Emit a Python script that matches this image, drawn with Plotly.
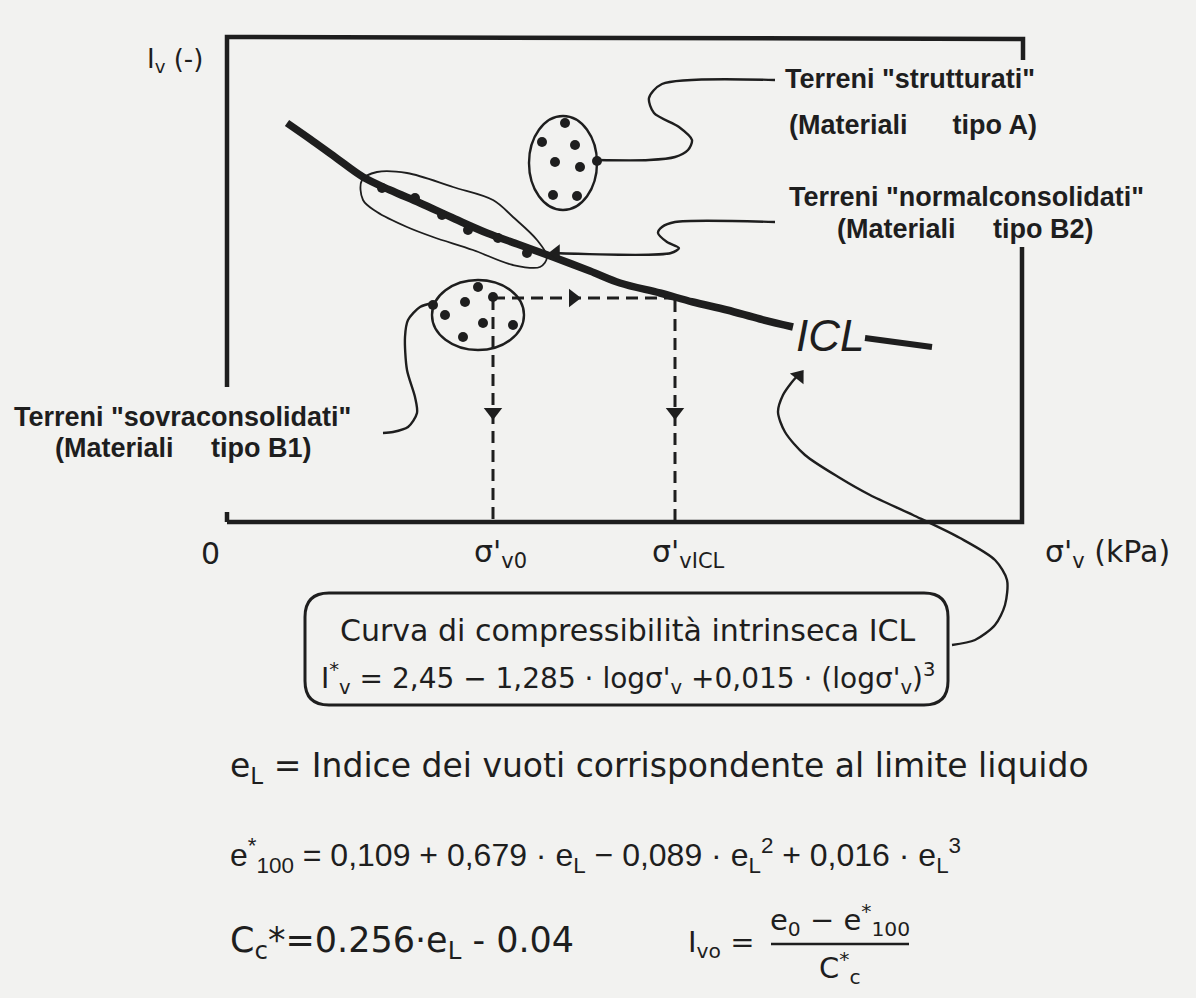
import plotly.graph_objects as go

# ICL curve (drawing units = pixels of the sheet)
icl_x = [287, 310, 335, 363, 390, 420, 455, 487, 520, 553, 590, 620, 660, 693, 727, 760, 793]
icl_y = [123, 139, 157, 177, 190, 203, 219, 233, 245, 257, 271, 283, 293, 302, 310, 319, 327]
icl_tail_x = [865, 932]
icl_tail_y = [338, 347]

# "normalconsolidati" loop and its points on the curve
nc_loop_x = [362, 377, 407, 453, 493, 513, 537, 547, 540, 513, 473, 433, 407, 377, 363, 362]
nc_loop_y = [180, 172, 173, 187, 200, 217, 240, 257, 267, 265, 250, 237, 227, 212, 200, 180]
nc_dots_x = [382, 415, 442, 468, 498, 527]
nc_dots_y = [188, 198, 215, 230, 238, 253]

# "strutturati" cloud (type A)
a_ell = [529, 116, 597, 210]
a_dots_x = [565, 542, 575, 555, 580, 553, 577, 597]
a_dots_y = [123, 142, 145, 162, 167, 195, 196, 161]

# "sovraconsolidati" cloud (type B1)
b1_ell = [432, 280, 524, 350]
b1_dots_x = [478, 465, 493, 445, 483, 513, 463, 433]
b1_dots_y = [287, 302, 297, 315, 323, 325, 337, 305]

# leaders
lead_a_x = [597, 649, 675, 688, 692, 679, 654, 649, 662, 775]
lead_a_y = [160, 160, 157, 150, 140, 127, 113, 98, 84, 80]
lead_b2_x = [553, 671, 679, 667, 658, 662, 675, 775]
lead_b2_y = [253, 253, 248, 242, 233, 227, 222, 222]
lead_b1_x = [433, 420, 408, 405, 407, 415, 417, 408, 393, 383]
lead_b1_y = [303, 307, 320, 337, 370, 397, 413, 427, 432, 433]
lead_icl_x = [952, 975, 995, 1005, 1007, 995, 960, 913, 870, 840, 805, 785, 778, 783, 792, 800]
lead_icl_y = [645, 640, 625, 605, 580, 560, 538, 515, 495, 478, 455, 432, 412, 395, 382, 373]

# construction lines sigma'v0 / sigma'vICL
s_v0 = 493
s_vicl = 675
s_level = 298
axis_base = 522

# frame pieces
frame_x = [[227, 227, 1023, 1023], [1022, 1022, 227], [227, 227]]
frame_y = [[387, 37, 39, 60], [247, 522, 522], [512, 522]]

INK = "#1e1e1e"
PAPER = "#f2f2f0"

fig = go.Figure()

for fx, fy in zip(frame_x, frame_y):
    fig.add_trace(go.Scatter(x=fx, y=fy, mode="lines", line=dict(color=INK, width=4.5)))

fig.add_trace(go.Scatter(x=icl_x, y=icl_y, mode="lines",
                         line=dict(color=INK, width=7.5, shape="spline")))
fig.add_trace(go.Scatter(x=icl_tail_x, y=icl_tail_y, mode="lines",
                         line=dict(color=INK, width=6)))

fig.add_trace(go.Scatter(x=nc_loop_x, y=nc_loop_y, mode="lines",
                         line=dict(color=INK, width=1.8, shape="spline", smoothing=1.0)))

for dx, dy in [(nc_dots_x, nc_dots_y), (a_dots_x, a_dots_y), (b1_dots_x, b1_dots_y)]:
    fig.add_trace(go.Scatter(x=dx, y=dy, mode="markers",
                             marker=dict(color=INK, size=10, line=dict(width=0))))

for lx, ly in [(lead_a_x, lead_a_y), (lead_b2_x, lead_b2_y),
               (lead_b1_x, lead_b1_y), (lead_icl_x, lead_icl_y)]:
    fig.add_trace(go.Scatter(x=lx, y=ly, mode="lines",
                             line=dict(color=INK, width=2.4, shape="spline", smoothing=0.8)))

# dashed construction lines
dash = dict(color=INK, width=3, dash="12px,7px")
fig.add_trace(go.Scatter(x=[s_v0, s_vicl], y=[s_level, s_level], mode="lines", line=dash))
fig.add_trace(go.Scatter(x=[s_v0, s_v0], y=[s_level, axis_base], mode="lines", line=dash))
fig.add_trace(go.Scatter(x=[s_vicl, s_vicl], y=[s_level + 2, axis_base], mode="lines", line=dash))

# arrow heads
fig.add_trace(go.Scatter(x=[573], y=[s_level], mode="markers",
                         marker=dict(symbol="triangle-right", size=16, color=INK)))
fig.add_trace(go.Scatter(x=[s_v0, s_vicl], y=[412, 412], mode="markers",
                         marker=dict(symbol="triangle-down", size=16, color=INK)))
fig.add_trace(go.Scatter(x=[556], y=[253], mode="markers",
                         marker=dict(symbol="triangle-left", size=15, color=INK)))
fig.add_trace(go.Scatter(x=[799], y=[376], mode="markers",
                         marker=dict(symbol="triangle-up", size=15, color=INK, angle=38)))

# Ivo fraction bar
fig.add_trace(go.Scatter(x=[771, 909], y=[944, 944], mode="lines", line=dict(color=INK, width=2.5)))

# clouds
fig.add_shape(type="circle", xref="x", yref="y", x0=a_ell[0], y0=a_ell[1], x1=a_ell[2], y1=a_ell[3],
              line=dict(color=INK, width=2.4))
fig.add_shape(type="circle", xref="x", yref="y", x0=b1_ell[0], y0=b1_ell[1], x1=b1_ell[2], y1=b1_ell[3],
              line=dict(color=INK, width=2.4))

# rounded box for the ICL equation
bx0, by0, bx1, by1, r = 305, 593, 948, 705, 24
path = (f"M {bx0+r},{by0} L {bx1-r},{by0} Q {bx1},{by0} {bx1},{by0+r} "
        f"L {bx1},{by1-r} Q {bx1},{by1} {bx1-r},{by1} L {bx0+r},{by1} "
        f"Q {bx0},{by1} {bx0},{by1-r} L {bx0},{by0+r} Q {bx0},{by0} {bx0+r},{by0} Z")
fig.add_shape(type="path", xref="x", yref="y", path=path, line=dict(color=INK, width=3))

LAB = dict(family="Liberation Sans, Arial, sans-serif", size=27, color=INK)
GOT = dict(family="DejaVu Sans, sans-serif", size=30, color=INK)
ARL = dict(family="Liberation Sans, Arial, sans-serif", size=32, color=INK)
NB = "\u00a0"

def note(x, y, text, font, xanchor="left", yanchor="middle"):
    fig.add_annotation(x=x, y=y, xref="x", yref="y", text=text, showarrow=False,
                       font=font, xanchor=xanchor, yanchor=yanchor)

note(783, 79, "<b>Terreni \"strutturati\"</b>", LAB)
note(787, 125, "<b>(Materiali" + NB * 6 + "tipo A)</b>", LAB)
note(787, 197, "<b>Terreni \"normalconsolidati\"</b>", LAB)
note(835, 229, "<b>(Materiali" + NB * 5 + "tipo B2)</b>", LAB)
note(12, 417, "<b>Terreni \"sovraconsolidati\"</b>", LAB)
note(53, 448, "<b>(Materiali" + NB * 5 + "tipo B1)</b>", LAB)

note(830, 335, "<i>ICL</i>", dict(family="Liberation Sans, Arial, sans-serif", size=44, color=INK),
     xanchor="center")

note(205, 60, "I<sub>v</sub> (-)", dict(GOT, size=26), xanchor="right")
note(210, 553, "0", dict(GOT, size=30), xanchor="center")
note(472, 553, "σ'<sub>v0</sub>", GOT)
note(650, 553, "σ'<sub>vICL</sub>", GOT)
note(1043, 553, "σ'<sub>v</sub> (kPa)", GOT)

note(628, 630, "Curva di compressibilità intrinseca ICL", dict(GOT, size=30), xanchor="center")
note(628, 678, "I<sup>*</sup><sub>v</sub> = 2,45 − 1,285 · logσ'<sub>v</sub> +0,015 · (logσ'<sub>v</sub>)<sup>3</sup>",
     dict(GOT, size=28), xanchor="center")

note(228, 767, "e<sub>L</sub> = Indice dei vuoti corrispondente al limite liquido", dict(GOT, size=33))
note(228, 855, "e<sup>*</sup><sub>100</sub> = 0,109 + 0,679 · e<sub>L</sub> − 0,089 · e<sub>L</sub><sup>2</sup>"
     " + 0,016 · e<sub>L</sub><sup>3</sup>", ARL)
note(228, 942, "C<sub>c</sub>*=0.256·e<sub>L</sub> - 0.04", dict(GOT, size=35))
note(757, 944, "I<sub>vo</sub> =", dict(GOT, size=29), xanchor="right")
note(840, 920, "e<sub>0</sub> − e<sup>*</sup><sub>100</sub>", dict(GOT, size=29), xanchor="center")
note(840, 968, "C<sup>*</sup><sub>c</sub>", dict(GOT, size=29), xanchor="center")

fig.update_layout(
    width=1196,
    height=998,
    margin=dict(l=0, r=0, t=0, b=0),
    paper_bgcolor=PAPER,
    plot_bgcolor=PAPER,
    showlegend=False,
    hovermode=False,
)
fig.update_xaxes(range=[0, 1196], visible=False, fixedrange=True)
fig.update_yaxes(range=[998, 0], visible=False, fixedrange=True)

fig.write_html("out.html", config={"displayModeBar": False},
               post_script="document.body.style.margin='0';document.body.style.background='#f2f2f0';")
